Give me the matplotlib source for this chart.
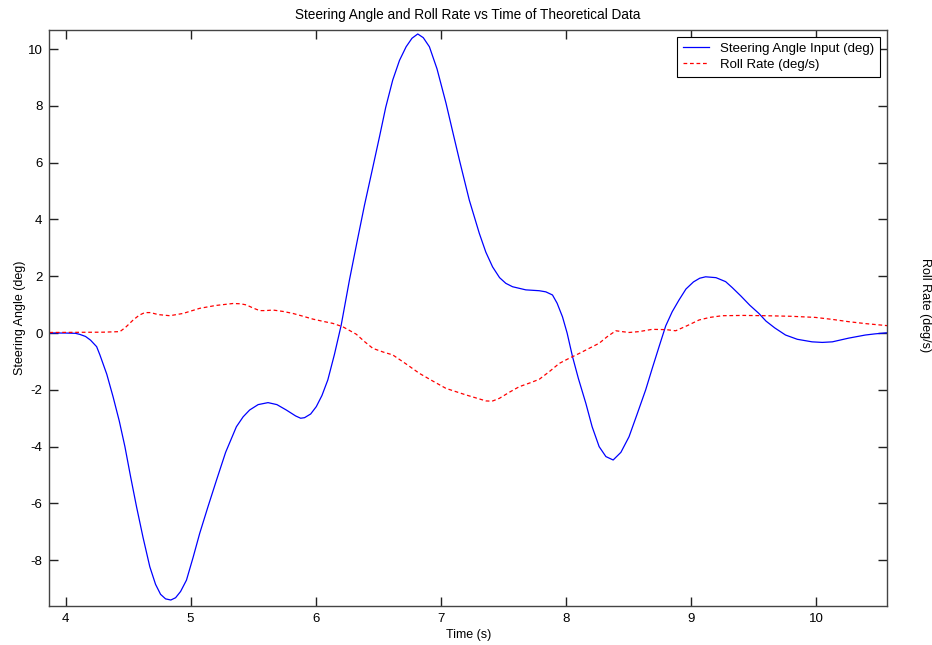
import matplotlib
matplotlib.use("Agg")
import matplotlib.pyplot as plt

plt.rcParams['font.family'] = ['Liberation Sans', 'DejaVu Sans']
plt.rcParams['font.size'] = 9
plt.rcParams['axes.unicode_minus'] = False

# steering angle input (deg)
steer_t = [3.87, 4.0, 4.08, 4.116, 4.16, 4.20, 4.249, 4.275, 4.33, 4.38, 4.43,
           4.475, 4.52, 4.568, 4.62, 4.674, 4.72, 4.76, 4.80, 4.842, 4.88, 4.92,
           4.967, 5.02, 5.073, 5.14, 5.207, 5.28, 5.366, 5.42, 5.472, 5.54, 5.619,
           5.69, 5.765, 5.84, 5.88, 5.911, 5.96, 6.005, 6.05, 6.097, 6.15, 6.204,
           6.27, 6.33, 6.39, 6.45, 6.51, 6.56, 6.616, 6.67, 6.723, 6.77, 6.816,
           6.86, 6.909, 6.97, 7.042, 7.10, 7.149, 7.228, 7.308, 7.36, 7.414, 7.47,
           7.52, 7.574, 7.68, 7.787, 7.84, 7.893, 7.93, 7.973, 8.01, 8.053, 8.10,
           8.16, 8.21, 8.266, 8.32, 8.378, 8.44, 8.505, 8.57, 8.638, 8.69, 8.745,
           8.798, 8.85, 8.904, 8.96, 9.02, 9.07, 9.117, 9.20, 9.277, 9.33, 9.40,
           9.47, 9.543, 9.60, 9.67, 9.756, 9.85, 9.968, 10.05, 10.13, 10.26,
           10.394, 10.47, 10.57]
steer_v = [0.0, 0.0, -0.01, -0.05, -0.12, -0.25, -0.48, -0.77, -1.45, -2.24, -3.1,
           -4.0, -5.05, -6.12, -7.2, -8.23, -8.85, -9.2, -9.36, -9.40, -9.32, -9.1,
           -8.70, -7.9, -7.05, -6.1, -5.18, -4.2, -3.30, -2.95, -2.71, -2.52, -2.45,
           -2.52, -2.71, -2.92, -3.0, -2.98, -2.85, -2.59, -2.2, -1.65, -0.75, 0.28,
           1.87, 3.2, 4.5, 5.7, 6.91, 7.95, 8.91, 9.6, 10.08, 10.38, 10.53,
           10.4, 10.08, 9.3, 8.09, 7.0, 6.09, 4.68, 3.51, 2.85, 2.33, 1.95,
           1.75, 1.63, 1.52, 1.49, 1.45, 1.34, 1.05, 0.57, 0.0, -0.83, -1.6,
           -2.48, -3.3, -4.0, -4.35, -4.47, -4.2, -3.65, -2.85, -2.0, -1.25, -0.48,
           0.25, 0.75, 1.16, 1.55, 1.8, 1.93, 1.98, 1.95, 1.81, 1.6, 1.30,
           0.98, 0.69, 0.42, 0.18, -0.07, -0.22, -0.31, -0.33, -0.31, -0.18,
           -0.07, -0.03, 0.01]

# roll rate (deg/s)
roll_t = [3.87, 4.3, 4.435, 4.48, 4.541, 4.59, 4.634, 4.68, 4.74, 4.834, 4.94,
          5.073, 5.20, 5.339, 5.40, 5.446, 5.50, 5.552, 5.60, 5.658, 5.74, 5.818,
          5.90, 5.978, 6.06, 6.137, 6.217, 6.324, 6.39, 6.457, 6.54, 6.616, 6.72,
          6.829, 6.94, 7.042, 7.202, 7.361, 7.41, 7.468, 7.55, 7.627, 7.71, 7.787,
          7.87, 7.947, 8.03, 8.106, 8.19, 8.266, 8.33, 8.399, 8.45, 8.505, 8.585,
          8.69, 8.80, 8.878, 8.97, 9.065, 9.15, 9.25, 9.42, 9.596, 9.80, 9.995,
          10.13, 10.26, 10.40, 10.57]
roll_v = [0.02, 0.03, 0.05, 0.2, 0.46, 0.63, 0.72, 0.72, 0.65, 0.61, 0.69,
          0.87, 0.97, 1.04, 1.03, 0.99, 0.88, 0.79, 0.79, 0.81, 0.76, 0.69,
          0.59, 0.49, 0.41, 0.34, 0.22, -0.04, -0.3, -0.54, -0.67, -0.77, -1.08,
          -1.42, -1.70, -1.95, -2.18, -2.39, -2.40, -2.30, -2.08, -1.89, -1.76, -1.63,
          -1.35, -1.07, -0.88, -0.72, -0.53, -0.36, -0.13, 0.08, 0.05, 0.02, 0.05,
          0.13, 0.12, 0.08, 0.26, 0.46, 0.55, 0.61, 0.62, 0.61, 0.59, 0.55,
          0.48, 0.40, 0.33, 0.26]

fig = plt.figure(figsize=(9.32, 6.45), dpi=100)
ax = fig.add_axes([0.0531, 0.0605, 0.8986, 0.893])

ax.plot(steer_t, steer_v, color='#0000ff', lw=0.9, label='Steering Angle Input (deg)')
ax.plot(roll_t, roll_v, color='#ff0000', lw=0.9, ls=(0, (3, 2.2)), label='Roll Rate (deg/s)')

ax.set_xlim(3.872, 10.567)
ax.set_ylim(-9.61, 10.67)
ax.set_xticks([4, 5, 6, 7, 8, 9, 10])
ax.set_yticks([-8, -6, -4, -2, 0, 2, 4, 6, 8, 10])
ax.tick_params(direction='in', length=6.5, width=1, top=True, right=True,
               colors='#222222', labelcolor='black', pad=5, labelsize=9.5)
for s in ax.spines.values():
    s.set_color('#444444')
    s.set_linewidth(1)

ax.set_title('Steering Angle and Roll Rate vs Time of Theoretical Data', pad=8, fontsize=9.8)
ax.set_xlabel('Time (s)', labelpad=3)
ax.set_ylabel('Steering Angle (deg)', labelpad=1)
fig.text(0.993, 0.527, 'Roll Rate (deg/s)', rotation=270, ha='center', va='center')

leg = ax.legend(loc='upper right', fancybox=False, framealpha=1, edgecolor='black',
                borderaxespad=0.5, handlelength=2.0, handletextpad=0.85,
                borderpad=0.45, labelspacing=0.3, prop={'size': 9.5})
leg.get_frame().set_linewidth(0.8)

fig.savefig('out.png', dpi=100)
